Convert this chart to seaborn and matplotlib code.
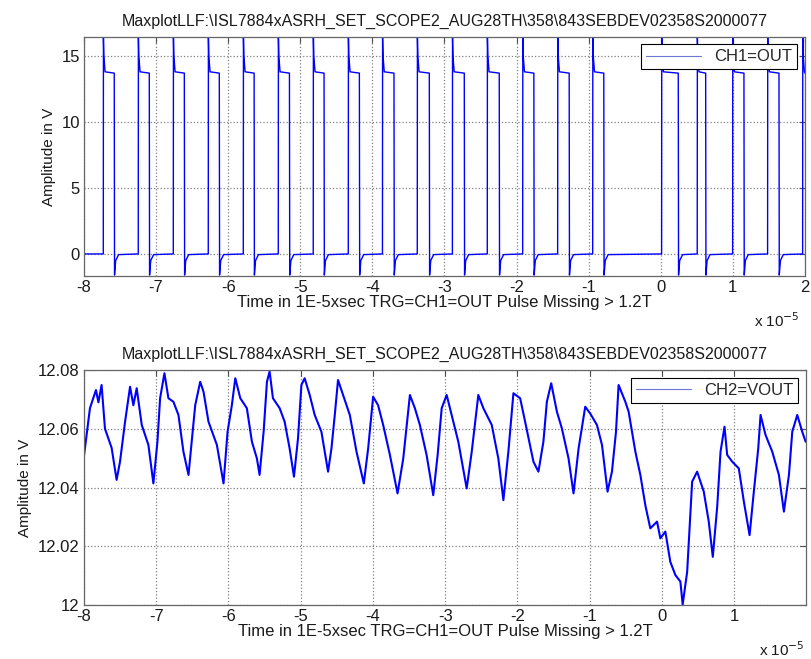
import matplotlib
matplotlib.use("Agg")
import matplotlib.pyplot as plt
import seaborn as sns

# ---- data (time in units of 1E-5 s) ----
TITLE = r"MaxplotLLF:\ISL7884xASRH_SET_SCOPE2_AUG28TH\358\843SEBDEV02358S2000077"
XLABEL = "Time in 1E-5xsec TRG=CH1=OUT Pulse Missing > 1.2T"

# CH1=OUT switching node: edge times of each pulse
rise_times = [-7.732, -7.247, -6.761, -6.276, -5.790, -5.305, -4.820, -4.334,
              -3.860, -3.377, -2.890, -2.406, -1.915, -1.430, -0.944,
              0.012, 0.506, 0.997, 1.482, 1.968]
fall_times = [-7.580, -7.094, -6.608, -6.123, -5.640, -5.150, -4.670, -4.180,
              -3.700, -3.210, -2.725, -2.240, -1.760, -1.270, -0.790,
              0.243, 0.623, 1.154, 1.640]
low_level = 0.0
high_level = 13.7
# shape of a rising edge (overshoot spike) and falling edge (undershoot)
rise_dt = [0.0, 0.002, 0.008, 0.025]
rise_v = [0.0, 16.4, 15.0, 13.8]
fall_dt = [0.0, 0.004, 0.020, 0.060]
fall_v = [13.7, -1.6, -0.5, -0.05]

# CH2=VOUT output ripple
ch2_t = [-8.01, -7.964, -7.917, -7.834, -7.800, -7.756, -7.709, -7.617, -7.548,
         -7.501, -7.431, -7.362, -7.316, -7.270, -7.200, -7.108, -7.039, -6.983,
         -6.946, -6.886, -6.831, -6.762, -6.692, -6.623, -6.553, -6.508, -6.460,
         -6.391, -6.345, -6.276, -6.160, -6.068, -6.012, -5.953, -5.905, -5.836,
         -5.745, -5.675, -5.606, -5.569, -5.513, -5.467, -5.430, -5.384, -5.291,
         -5.222, -5.153, -5.093, -5.037, -4.990, -4.945, -4.875, -4.806, -4.713,
         -4.621, -4.574, -4.528, -4.483, -4.413, -4.320, -4.227, -4.126, -4.066,
         -3.997, -3.928, -3.858, -3.765, -3.659, -3.580, -3.488, -3.419, -3.350,
         -3.257, -3.165, -3.104, -3.048, -2.979, -2.910, -2.818, -2.702, -2.632,
         -2.541, -2.471, -2.355, -2.264, -2.194, -2.125, -2.055, -1.962, -1.893,
         -1.778, -1.709, -1.640, -1.592, -1.532, -1.453, -1.384, -1.292, -1.223,
         -1.153, -1.061, -0.992, -0.899, -0.829, -0.752, -0.691, -0.635, -0.599,
         -0.506, -0.460, -0.413, -0.367, -0.298, -0.229, -0.160, -0.067, -0.021,
         0.048, 0.117, 0.187, 0.256, 0.288, 0.350, 0.419, 0.488, 0.580, 0.649,
         0.705, 0.766, 0.812, 0.867, 0.904, 0.974, 1.065, 1.135, 1.214, 1.273,
         1.334, 1.366, 1.435, 1.528, 1.620, 1.689, 1.759, 1.805, 1.874, 1.943,
         1.990]
ch2_v = [12.0488, 12.0579, 12.0670, 12.0732, 12.0690, 12.0749, 12.0600, 12.0535,
         12.0426, 12.0488, 12.0624, 12.0743, 12.0680, 12.0738, 12.0613, 12.0545,
         12.0414, 12.0556, 12.0704, 12.0789, 12.0704, 12.0692, 12.0647, 12.0522,
         12.0443, 12.0556, 12.0680, 12.0760, 12.0726, 12.0624, 12.0545, 12.0414,
         12.0590, 12.0680, 12.0772, 12.0704, 12.0670, 12.0556, 12.0499, 12.0443,
         12.0590, 12.0760, 12.0795, 12.0704, 12.0670, 12.0624, 12.0533, 12.0437,
         12.0567, 12.0749, 12.0772, 12.0715, 12.0647, 12.0590, 12.0454, 12.0533,
         12.0647, 12.0766, 12.0715, 12.0647, 12.0522, 12.0414, 12.0533, 12.0709,
         12.0680, 12.0613, 12.0511, 12.0380, 12.0499, 12.0715, 12.0670, 12.0613,
         12.0511, 12.0374, 12.0511, 12.0670, 12.0715, 12.0647, 12.0556, 12.0397,
         12.0522, 12.0715, 12.0670, 12.0613, 12.0499, 12.0357, 12.0522, 12.0721,
         12.0704, 12.0624, 12.0488, 12.0454, 12.0556, 12.0692, 12.0755, 12.0658,
         12.0601, 12.0499, 12.0380, 12.0533, 12.0675, 12.0652, 12.0613, 12.0545,
         12.0386, 12.0454, 12.0590, 12.0749, 12.0692, 12.0658, 12.0590, 12.0522,
         12.0443, 12.0340, 12.0261, 12.0284, 12.0227, 12.0250, 12.0147, 12.0102,
         12.0080, 12.0002, 12.0113, 12.0420, 12.0454, 12.0386, 12.0284, 12.0164,
         12.0335, 12.0522, 12.0607, 12.0511, 12.0488, 12.0465, 12.0352, 12.0238,
         12.0386, 12.0533, 12.0647, 12.0579, 12.0522, 12.0443, 12.0318, 12.0443,
         12.0590, 12.0647, 12.0590, 12.0556]

ch1_xticks = [-8, -7, -6, -5, -4, -3, -2, -1, 0, 1, 2]
ch1_yticks = [0, 5, 10, 15]
ch2_xticks = [-8, -7, -6, -5, -4, -3, -2, -1, 0, 1]
ch2_yticks = [12.0, 12.02, 12.04, 12.06, 12.08]
ch2_ytick_labels = ["12", "12.02", "12.04", "12.06", "12.08"]

# build the CH1 trace from the edge list
ch1_x, ch1_y = [-8.0], [low_level]
for i, r in enumerate(rise_times):
    ch1_x += [r + dt for dt in rise_dt]
    ch1_y += rise_v
    if i < len(fall_times):
        ch1_x += [fall_times[i] + dt for dt in fall_dt]
        ch1_y += fall_v
ch1_x.append(2.0)
ch1_y.append(high_level)

sns.set_theme(style="white")
plt.rcParams["font.family"] = ["Liberation Sans", "DejaVu Sans"]
plt.rcParams["axes.unicode_minus"] = False

TRACE = "#0000ff"

fig = plt.figure(figsize=(8.12, 6.59), dpi=100)
ax1 = fig.add_axes([0.1034, 0.5812, 0.8879, 0.3627])
ax2 = fig.add_axes([0.1034, 0.0819, 0.8892, 0.3566])


def style_axes(ax):
    ax.grid(True, linestyle=":", color="0.5", linewidth=0.9)
    ax.tick_params(direction="in", top=True, right=True, length=4,
                   width=0.8, color="0.3", labelsize=12, labelcolor="0.1", pad=3)
    for sp in ax.spines.values():
        sp.set_color("0.4")
        sp.set_linewidth(0.9)
    ax.set_title(TITLE, fontsize=11.5, color="0.1", pad=8)
    ax.set_xlabel(XLABEL, fontsize=12, color="0.1", labelpad=0)
    ax.set_ylabel("Amplitude in V", fontsize=11, color="0.1")
    leg = ax.legend(loc="upper right", fancybox=False, edgecolor="black",
                    framealpha=1, handlelength=3.3, fontsize=12,
                    borderaxespad=0.45, borderpad=0.3)
    for h in leg.get_lines():
        h.set_linewidth(0.8)
        h.set_color("#6b78d8")
    leg.get_frame().set_linewidth(0.8)


sns.lineplot(x=ch1_x, y=ch1_y, ax=ax1, sort=False, estimator=None,
             color=TRACE, linewidth=1.0, label="CH1=OUT")
ax1.set_xlim(-8, 2)
ax1.set_ylim(-1.67, 16.44)
ax1.set_xticks(ch1_xticks)
ax1.set_yticks(ch1_yticks)
style_axes(ax1)

sns.lineplot(x=ch2_t, y=ch2_v, ax=ax2, sort=False, estimator=None,
             color=TRACE, linewidth=1.5, label="CH2=VOUT")
ax2.set_xlim(-8, 1.995)
ax2.set_ylim(12.0, 12.08)
ax2.set_xticks(ch2_xticks)
ax2.set_yticks(ch2_yticks)
ax2.set_yticklabels(ch2_ytick_labels)
style_axes(ax2)

fig.text(0.985, 0.513, r"x 10$^{-5}$", ha="right", va="center", fontsize=11, color="0.1")
fig.text(0.991, 0.014, r"x 10$^{-5}$", ha="right", va="center", fontsize=11, color="0.1")

fig.savefig("out.png", dpi=100)
